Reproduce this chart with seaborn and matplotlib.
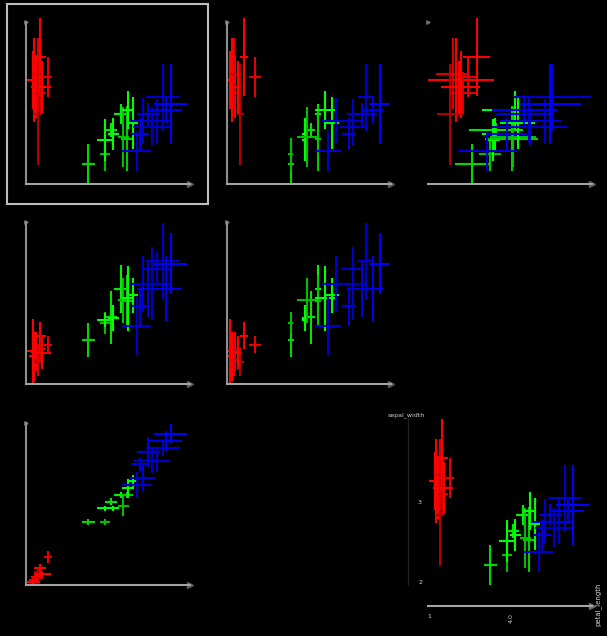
import numpy as np
import pandas as pd
import matplotlib
matplotlib.use("Agg")
import matplotlib.pyplot as plt
from matplotlib.patches import Rectangle
import seaborn as sns

# Measurements on a 0-100 scale (share of each axis range), with symmetric errors
variables = ["petal_length", "petal_width", "sepal_length", "sepal_width"]

setosa_petal_length = [4.5, 5.1, 5.9, 7.1, 7.5, 8.5, 9.1, 10.0, 13.2]
setosa_petal_width = [2.1, 3.1, 5.1, 8.2, 4.1, 10.3, 6.8, 6.8, 17.1]
setosa_sepal_length = [20.3, 17.1, 20.0, 13.4, 15.0, 29.8, 21.6, 19.0, 24.3]
setosa_sepal_width = [64.2, 64.2, 60.0, 43.0, 68.0, 78.6, 56.4, 59.7, 65.8]
setosa_petal_length_err = [4.0, 3.0, 3.0, 2.0, 3.0, 3.5, 3.0, 5.0, 2.5]
setosa_petal_width_err = [2.0, 2.5, 2.0, 2.0, 2.0, 2.5, 2.0, 2.0, 3.7]
setosa_sepal_length_err = [20.0, 15.0, 12.0, 8.2, 10.0, 8.3, 8.0, 10.0, 5.3]
setosa_sepal_width_err = [18.0, 26.0, 19.5, 31.0, 22.0, 24.0, 13.0, 16.0, 12.4]
setosa_tone = [1.0, 1.0, 1.0, 0.7, 0.85, 1.0, 0.85, 1.0, 0.9]

versicolor_petal_length = [38.0, 48.2, 48.2, 51.8, 53.3, 57.7, 59.3, 61.4, 62.0, 65.0]
versicolor_petal_width = [38.9, 38.9, 47.3, 51.4, 47.3, 55.6, 48.8, 55.6, 59.7, 64.2]
versicolor_sepal_length = [27.0, 37.7, 39.7, 41.2, 40.7, 58.6, 51.6, 51.0, 53.0, 54.7]
versicolor_sepal_width = [12.3, 18.3, 27.2, 33.3, 30.9, 43.2, 28.8, 28.0, 45.7, 37.4]
versicolor_petal_length_err = [4.1, 3.3, 4.9, 3.5, 3.3, 4.1, 3.3, 3.7, 3.7, 3.4]
versicolor_petal_width_err = [2.0, 1.6, 1.6, 2.0, 1.6, 2.0, 6.0, 2.0, 6.0, 4.0]
versicolor_sepal_length_err = [10.6, 6.8, 4.3, 16.5, 8.0, 15.0, 14.0, 16.0, 20.0, 10.7]
versicolor_sepal_width_err = [12.3, 10.0, 13.0, 4.5, 10.0, 6.0, 18.5, 20.0, 12.0, 16.0]
versicolor_tone = [0.85, 0.75, 1.0, 0.9, 1.0, 0.95, 0.75, 0.8, 1.0, 1.0]

virginica_petal_length = [67.5, 69.5, 71.5, 74.6, 76.6, 79.7, 83.7, 85.4, 88.2]
virginica_petal_width = [61.7, 74.5, 66.3, 82.3, 76.8, 76.8, 84.8, 89.1, 93.0]
virginica_sepal_length = [36.0, 47.9, 61.7, 58.8, 61.9, 71.2, 75.7, 58.8, 74.3]
virginica_sepal_width = [20.6, 30.7, 39.1, 43.2, 35.4, 39.1, 53.5, 45.7, 49.2]
virginica_petal_length_err = [8.7, 5.5, 7.8, 7.0, 11.5, 8.0, 10.4, 10.0, 10.0]
virginica_petal_width_err = [7.8, 4.1, 8.2, 9.3, 7.8, 7.0, 5.1, 6.2, 6.2]
virginica_sepal_length_err = [18.0, 12.2, 17.5, 17.5, 22.6, 10.3, 23.7, 20.0, 19.0]
virginica_sepal_width_err = [12.3, 10.0, 14.0, 6.8, 12.0, 13.6, 20.6, 8.2, 24.7]
virginica_tone = [0.8, 0.85, 0.8, 0.85, 0.75, 0.8, 0.8, 0.9, 1.0]

species_rgb = {"setosa": (1, 0, 0), "versicolor": (0, 1, 0), "virginica": (0, 0, 1)}

frames = []
for name in ["setosa", "versicolor", "virginica"]:
    g = globals()
    part = {v: g[f"{name}_{v}"] for v in variables}
    part.update({f"{v}_err": g[f"{name}_{v}_err"] for v in variables})
    part["tone"] = g[f"{name}_tone"]
    part = pd.DataFrame(part)
    part["species"] = name
    frames.append(part)
df = pd.concat(frames, ignore_index=True)
df["color"] = [matplotlib.colors.to_hex(tuple(c * t for c in species_rgb[s]))
               for s, t in zip(df["species"], df["tone"])]

sns.set_theme(style="dark")
W, H = 607, 636
fig = plt.figure(figsize=(W / 100, H / 100), dpi=100, facecolor="black")

AX_W, AX_H = 164, 162
col_x = [26, 227, 428]
row_y = [184, 384, 585]


def make_axes(x0, y0):
    return fig.add_axes([x0 / W, 1 - y0 / H, AX_W / W, AX_H / H])


def draw_points(ax, xcol, ycol):
    for _, r in df.iterrows():
        cont = ax.errorbar(r[xcol], r[ycol], xerr=r[f"{xcol}_err"], yerr=r[f"{ycol}_err"],
                           fmt="none", ecolor=r["color"], elinewidth=1.5, capsize=0)
        for coll in cont.lines[2]:
            coll.set_clip_on(False)
    sns.scatterplot(data=df, x=xcol, y=ycol, hue="color",
                    palette={c: c for c in df["color"].unique()},
                    s=3, linewidth=0, legend=False, ax=ax, clip_on=False)
    ax.set_xlim(0, 100)
    ax.set_ylim(0, 100)
    ax.set_facecolor("none")
    ax.set_xlabel("")
    ax.set_ylabel("")
    ax.set_xticks([])
    ax.set_yticks([])
    ax.grid(False)


def style_small(ax, show_left=True):
    for s in ["top", "right"]:
        ax.spines[s].set_visible(False)
    ax.spines["bottom"].set_color("#a3a3a3")
    ax.spines["bottom"].set_linewidth(1.5)
    ax.spines["left"].set_color("#8e8e8e")
    ax.spines["left"].set_linewidth(1.5)
    ax.spines["left"].set_visible(show_left)
    ax.plot([1.0], [0.0], marker=">", ms=4, color="#5c5c5c", transform=ax.transAxes, clip_on=False)
    ax.plot([0.0], [1.0], marker=">", ms=2.5, color="#6a6a6a", transform=ax.transAxes, clip_on=False)


# scatter-plot matrix: row r uses y = variables[3 - r], column c uses x = variables[c]
for r in range(3):
    for c in range(3 - r):
        ax = make_axes(col_x[c], row_y[r])
        draw_points(ax, variables[c], variables[3 - r])
        style_small(ax, show_left=not (r == 0 and c == 2))

# frame marking the active plot
fig.patches.append(Rectangle((7 / W, 1 - 204 / H), 201 / W, 200 / H, transform=fig.transFigure,
                             fill=False, ec="#bebebe", lw=1.5))

# enlarged view of the active plot
big = make_axes(col_x[2], row_y[2])
draw_points(big, variables[0], variables[3])
for s in ["top", "right"]:
    big.spines[s].set_visible(False)
big.spines["left"].set_position(("outward", 14.5))
big.spines["bottom"].set_position(("outward", 15))
big.spines["left"].set_color("#1e1e1e")
big.spines["left"].set_linewidth(1.0)
big.spines["bottom"].set_color("#a5a5a5")
big.spines["bottom"].set_linewidth(1.5)
big.spines["left"].set_bounds(0, 103)
xk = [0, 1, 2, 3, 6, 7, 8]
yk = [0, 1, 2, 5, 6, 7]
big.set_xticks([k * 12.5 for k in xk])
big.set_yticks([k * 12.5 for k in yk])
big.set_xticklabels([])
big.set_yticklabels([])
big.tick_params(axis="both", length=2, width=2.5, direction="inout")
for k, t in zip(xk, big.xaxis.get_major_ticks()):
    t.tick1line.set_color("#d01010" if k in (0, 8) else "#c8c800")
for k, t in zip(yk, big.yaxis.get_major_ticks()):
    t.tick1line.set_color("#d01010" if k == 0 else "#b4b400")
big.plot([1.0], [-0.13], marker=">", ms=4, color="#6a6a6a", transform=big.transAxes, clip_on=False)

lab = dict(color="#d0d0d0", fontsize=4.5)
fig.text(388 / W, 1 - 415 / H, "sepal_width", ha="left", va="center", **lab)
fig.text(420 / W, 1 - 503 / H, "3", ha="center", va="center", **lab)
fig.text(420 / W, 1 - 583 / H, "2", ha="center", va="center", **lab)
fig.text(429 / W, 1 - 617 / H, "1", ha="center", va="center", **lab)
fig.text(511 / W, 1 - 618 / H, "4.0", ha="center", va="center", rotation=90, **lab)
fig.text(598 / W, 1 - 604 / H, "petal_length", ha="center", va="center", rotation=90,
         color="#d0d0d0", fontsize=5)

fig.savefig("out.png", dpi=100, facecolor="black")
